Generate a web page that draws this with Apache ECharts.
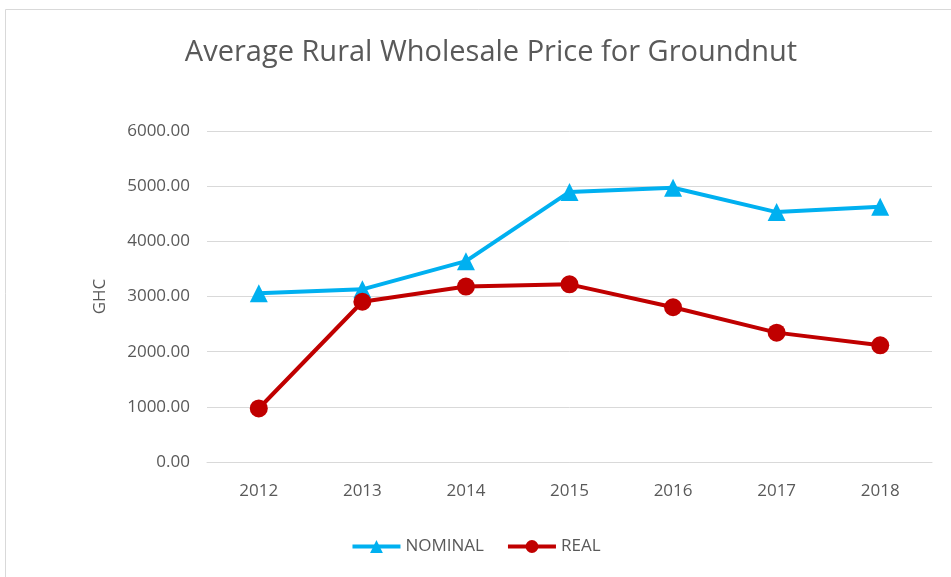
<!DOCTYPE html>
<html>
<head>
<meta charset="utf-8">
<script src="https://cdn.jsdelivr.net/npm/echarts@6/dist/echarts.min.js"></script>
<style>
  html, body { margin: 0; padding: 0; background: #fff; }
  #chart { width: 951px; height: 577px; }
</style>
</head>
<body>
<div id="chart"></div>
<script>
    // values
    const years = ['2012', '2013', '2014', '2015', '2016', '2017', '2018'];
    const nominal = [3060, 3130, 3640, 4895, 4970, 4530, 4625];
    const real = [970, 2905, 3180, 3220, 2805, 2345, 2115];

    const textColor = '#595959';
    const font = 'Open Sans';

    let myChart = echarts.init(document.getElementById('chart'));

    let option = {
        backgroundColor: '#fff',
        animation: false,
        graphic: [
            {
                type: 'rect',
                shape: { x: 5.5, y: 9.5, width: 960, height: 600 },
                style: { fill: 'none', stroke: '#d9d9d9', lineWidth: 1 },
                silent: true
            }
        ],
        title: {
            text: 'Average Rural Wholesale Price for Groundnut',
            left: 486,
            top: 33,
            textAlign: 'center',
            textStyle: {
                fontFamily: font,
                fontWeight: 400,
                fontSize: 29,
                color: textColor
            }
        },
        legend: {
            bottom: 17,
            left: 'center',
            itemWidth: 48,
            itemHeight: 16,
            itemGap: 22,
            lineStyle: { width: 4 },
            textStyle: { fontFamily: font, fontSize: 17, color: textColor },
            data: ['NOMINAL', 'REAL']
        },
        grid: {
            left: 207,
            right: 19,
            top: 131,
            bottom: 115
        },
        xAxis: {
            type: 'category',
            data: years,
            axisLine: { lineStyle: { color: '#d9d9d9' } },
            axisTick: { show: false },
            axisLabel: {
                margin: 21,
                fontFamily: font,
                fontSize: 17,
                color: textColor
            }
        },
        yAxis: {
            type: 'value',
            min: 0,
            max: 6000,
            interval: 1000,
            name: 'GHC',
            nameLocation: 'middle',
            nameGap: 98,
            nameTextStyle: { fontFamily: font, fontSize: 17, color: textColor },
            axisLine: { show: false },
            axisTick: { show: false },
            axisLabel: {
                margin: 17,
                fontFamily: font,
                fontSize: 17,
                color: textColor,
                formatter: function (v) { return v.toFixed(2); }
            },
            splitLine: { lineStyle: { color: '#d9d9d9', width: 1 } }
        },
        series: [
            {
                name: 'NOMINAL',
                type: 'line',
                data: nominal,
                symbol: 'triangle',
                symbolSize: 18,
                lineStyle: { color: '#00b0f0', width: 4 },
                itemStyle: { color: '#00b0f0' }
            },
            {
                name: 'REAL',
                type: 'line',
                data: real,
                symbol: 'circle',
                symbolSize: 18,
                lineStyle: { color: '#c00000', width: 4 },
                itemStyle: { color: '#c00000' }
            }
        ]
    };

    myChart.setOption(option);
</script>
</body>
</html>
